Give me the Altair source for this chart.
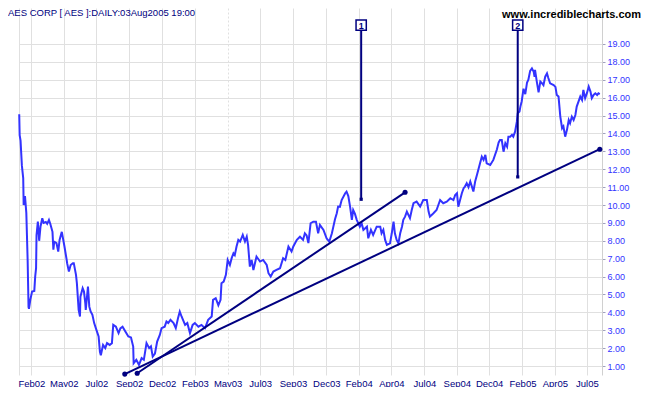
import altair as alt
import pandas as pd

# Daily close of AES, x = calendar day counted from 2002-01-01
days = [1, 2, 4, 7, 10, 11, 14, 17, 20, 22, 23, 26, 30, 35, 37, 39, 40, 43, 46, 49,
        53, 56, 61, 64, 68, 71, 76, 78, 80, 85, 89, 92, 97, 103, 108, 109, 113, 117, 122, 124,
        129, 131, 135, 138, 139, 144, 147, 150, 151, 156, 159, 162, 166, 170, 175, 180, 183, 185, 190, 195,
        199, 205, 210, 213, 219, 225, 229, 234, 241, 247, 253, 258, 259, 265, 271, 277, 282, 288, 294, 298,
        302, 307, 312, 318, 322, 329, 333, 337, 342, 349, 354, 359, 363, 367, 375, 380, 386, 392, 397, 405,
        412, 420, 427, 435, 438, 444, 450, 455, 457, 462, 467, 471, 476, 480, 484, 487, 491, 495, 499, 505,
        510, 514, 517, 521, 525, 529, 536, 544, 551, 559, 563, 568, 574, 581, 589, 596, 601, 608, 615, 619,
        627, 634, 641, 645, 649, 653, 658, 664, 670, 675, 679, 687, 694, 700, 706, 713, 717, 720, 724, 728,
        736, 739, 743, 747, 751, 754, 758, 762, 769, 773, 777, 785, 788, 794, 799, 807, 815, 818, 822, 826,
        830, 837, 841, 845, 848, 852, 856, 860, 864, 867, 871, 875, 882, 886, 890, 897, 905, 912, 920, 924,
        927, 935, 942, 950, 957, 965, 973, 980, 984, 988, 991, 995, 999, 1003, 1006, 1010, 1014, 1018, 1022, 1025,
        1029, 1033, 1036, 1040, 1044, 1048, 1052, 1055, 1063, 1070, 1078, 1082, 1085, 1089, 1093, 1097, 1101, 1104, 1108, 1112,
        1115, 1119, 1123, 1125, 1129, 1131, 1134, 1138, 1142, 1146, 1149, 1153, 1157, 1161, 1163, 1164, 1168, 1172, 1176, 1180,
        1183, 1187, 1191, 1194, 1198, 1206, 1210, 1213, 1217, 1221, 1225, 1228, 1232, 1236, 1240, 1243, 1247, 1251, 1255, 1258,
        1262, 1266, 1270, 1273, 1277, 1281, 1285, 1289, 1292, 1296, 1300, 1304, 1307, 1310]
close = [15.07, 13.9, 13.6, 12.2, 11.5, 10.0, 10.5, 9.56, 6.9, 4.3, 4.2, 4.7, 5.16, 5.2, 6.0, 6.47, 8.3, 9.07, 8.0, 8.8,
         9.26, 9.0, 9.05, 8.95, 9.17, 8.95, 8.5, 7.5, 7.95, 7.87, 7.4, 8.05, 8.5, 7.68, 6.93, 6.75, 6.28, 6.65, 6.75, 6.75,
         6.1, 5.63, 4.14, 3.77, 4.88, 5.35, 5.16, 4.5, 4.14, 5.44, 4.32, 4.05, 3.86, 3.4, 3.02, 2.65, 1.8, 1.6, 2.18, 2.0,
         2.28, 2.18, 2.28, 3.3, 3.2, 2.84, 3.1, 3.2, 2.9, 2.65, 2.6, 2.09, 1.16, 1.35, 1.07, 1.44, 1.35, 2.28, 2.0, 2.1,
         1.53, 1.7, 2.37, 2.74, 3.12, 3.2, 3.49, 3.4, 3.58, 3.4, 3.12, 3.67, 4.04, 3.77, 3.3, 3.4, 2.84, 3.3, 3.4, 3.2,
         3.3, 3.12, 3.58, 3.77, 4.7, 4.79, 4.4, 4.7, 5.63, 5.72, 6.1, 6.93, 6.65, 7.03, 7.3, 7.2, 7.68, 8.05, 7.96, 8.33,
         7.96, 8.23, 7.77, 6.56, 6.93, 6.37, 7.12, 6.84, 6.93, 6.65, 6.19, 6.0, 6.28, 6.37, 6.47, 7.03, 6.93, 7.68, 7.4, 7.68,
         8.05, 8.23, 8.05, 8.42, 8.3, 7.87, 8.98, 9.07, 9.07, 8.42, 8.89, 8.61, 8.14, 7.95, 8.42, 9.2, 9.54, 9.91, 9.9, 10.28,
         10.66, 10.75, 10.5, 9.91, 9.17, 9.72, 9.5, 9.17, 8.79, 8.98, 8.61, 8.79, 8.14, 8.61, 8.33, 8.79, 8.79, 8.42, 8.61, 8.05,
         7.77, 7.86, 8.42, 9.07, 8.42, 8.05, 7.86, 8.42, 8.79, 9.17, 9.35, 9.63, 9.26, 9.72, 10.1, 10.19, 9.91, 10.28, 10.28, 9.63,
         9.35, 9.54, 9.72, 10.28, 10.1, 10.19, 10.38, 10.28, 10.56, 10.66, 9.91, 10.28, 10.66, 10.94, 11.03, 11.22, 11.0, 11.31, 11.0, 10.75,
         11.31, 11.68, 11.96, 12.33, 12.7, 12.52, 12.8, 12.33, 12.24, 12.52, 13.1, 13.5, 13.63, 13.63, 12.98, 13.45, 13.26, 13.82, 13.82, 13.92,
         13.82, 14.1, 14.66, 15.13, 15.22, 15.5, 15.8, 16.5, 16.2, 16.85, 17.0, 17.5, 17.64, 17.45, 17.17, 17.55, 16.9, 16.3, 16.9, 16.8,
         16.7, 17.17, 17.36, 17.1, 16.8, 16.7, 16.6, 16.15, 16.06, 14.94, 14.29, 14.4, 13.82, 14.2, 14.75, 14.57, 14.94, 14.75, 15.03, 15.5,
         15.78, 16.06, 15.87, 16.43, 15.97, 16.25, 16.62, 16.34, 15.97, 16.15, 16.24, 16.15, 16.24, 16.2]

tick_days = [0.5, 28.5, 101.4, 175.2, 248.8, 323.3, 397.1, 470.9, 544.4, 618.2, 693.4,
             766.5, 840.1, 914.5, 987.7, 1060.6, 1135.7, 1208.8, 1281.0]
tick_labels = ["", "Feb02", "May02", "Jul02", "Sep02", "Dec02", "Feb03", "May03", "Jul03", "Sep03", "Dec03",
               "Feb04", "Apr04", "Jul04", "Sep04", "Dec04", "Feb05", "Apr05", "Jul05"]
price_ticks = list(range(1, 20))

trend_id = ["A", "A", "B", "B"]
trend_day = [267, 871, 239, 1310]
trend_val = [0.60, 10.71, 0.55, 13.12]

marker_label = ["1", "2"]
marker_day = [772, 1125]
marker_low = [10.32, 11.57]
marker_top = [20.05, 20.05]
marker_box = [20.05, 20.05]

title_text = "AES CORP [ AES ]:DAILY:03Aug2005 19:00"
site_text = "www.incrediblecharts.com"

NAVY = "#000080"
BLUE = "#3333ff"
GRID = "#e0e0e0"
FONT = "Liberation Sans"

price = pd.DataFrame({"day": days, "close": close})
trend = pd.DataFrame({"id": trend_id, "day": trend_day, "val": trend_val})
marks = pd.DataFrame({"label": marker_label, "day": marker_day, "low": marker_low,
                      "top": marker_top, "box": marker_box})

# nested conditional: label for each tick position
label_expr = "''"
for v, t in reversed(list(zip(tick_days, tick_labels))):
    label_expr = "(abs(datum.value - %s) < 0.01 ? '%s' : %s)" % (repr(v), t, label_expr)

xscale = alt.Scale(domain=[0.5, 1315], nice=False, zero=False)
yscale = alt.Scale(domain=[0.5, 21.01], nice=False, zero=False)

xaxis = alt.Axis(values=tick_days, tickCount=200, labelExpr=label_expr, grid=True, gridColor=GRID,
                 gridDash={"condition": {"test": "abs(datum.value - 470.9) < 0.01", "value": [2, 2]}, "value": []},
                 domain=False, ticks=False, tickSize=0, labelColor=NAVY, labelFont=FONT,
                 labelFontSize=9.5, labelBaseline="alphabetic", labelPadding=11,
                 labelOverlap=False, labelFlush=False, title=None)
yaxis = alt.Axis(orient="right", values=price_ticks, tickCount=200, format=".2f", grid=True, gridColor=GRID,
                 domain=True, domainColor="#d0d0d0", ticks=True, tickSize=3, tickColor="#a0a0c0",
                 labelColor=BLUE, labelFont=FONT, labelFontSize=9, labelPadding=2,
                 labelOverlap=False, title=None)

base_x = alt.X("day:Q", scale=xscale, axis=xaxis)

line = alt.Chart(price).mark_line(color=BLUE, strokeWidth=2).encode(
    x=base_x, y=alt.Y("close:Q", scale=yscale, axis=yaxis))

tl = alt.Chart(trend).mark_line(color=NAVY, strokeWidth=2).encode(
    x=alt.X("day:Q", scale=xscale), y=alt.Y("val:Q", scale=yscale), detail="id:N")
tp = alt.Chart(trend).mark_point(color=NAVY, filled=True, size=26, opacity=1).encode(
    x=alt.X("day:Q", scale=xscale), y=alt.Y("val:Q", scale=yscale))

mrule = alt.Chart(marks).mark_rule(color=NAVY, strokeWidth=2).encode(
    x=alt.X("day:Q", scale=xscale), y=alt.Y("low:Q", scale=yscale), y2="top:Q")
mend = alt.Chart(marks).mark_point(shape="square", color=NAVY, filled=True, size=10, opacity=1).encode(
    x=alt.X("day:Q", scale=xscale), y=alt.Y("low:Q", scale=yscale))
mbox = alt.Chart(marks).mark_point(shape="square", fill="white", stroke=NAVY, strokeWidth=1.5,
                                   filled=False, size=105, opacity=1, fillOpacity=1).encode(
    x=alt.X("day:Q", scale=xscale), y=alt.Y("box:Q", scale=yscale))
mtext = alt.Chart(marks).mark_text(color=NAVY, font=FONT, fontSize=9, fontWeight="bold",
                                   baseline="middle", dy=0.5).encode(
    x=alt.X("day:Q", scale=xscale), y=alt.Y("box:Q", scale=yscale), text="label:N")

ttl = alt.Chart(pd.DataFrame({"t": [title_text]})).mark_text(
    color=NAVY, font=FONT, fontSize=9.5, align="left", baseline="top").encode(
    x=alt.value(-11), y=alt.value(0), text="t:N")
site = alt.Chart(pd.DataFrame({"t": [site_text]})).mark_text(
    color="black", font=FONT, fontSize=11, fontWeight="bold", align="right", baseline="top").encode(
    x=alt.value(622), y=alt.value(0.5), text="t:N")

chart = alt.layer(line, tl, tp, mrule, mend, mbox, mtext, ttl, site).properties(
    width=583, height=367,
    autosize=alt.AutoSizeParams(type="none"),
    padding={"left": 11, "top": 0, "right": 41, "bottom": 12},
    background="white",
).configure_view(stroke=None)

chart.save("out.html", embed_options={"renderer": "svg", "actions": False})
